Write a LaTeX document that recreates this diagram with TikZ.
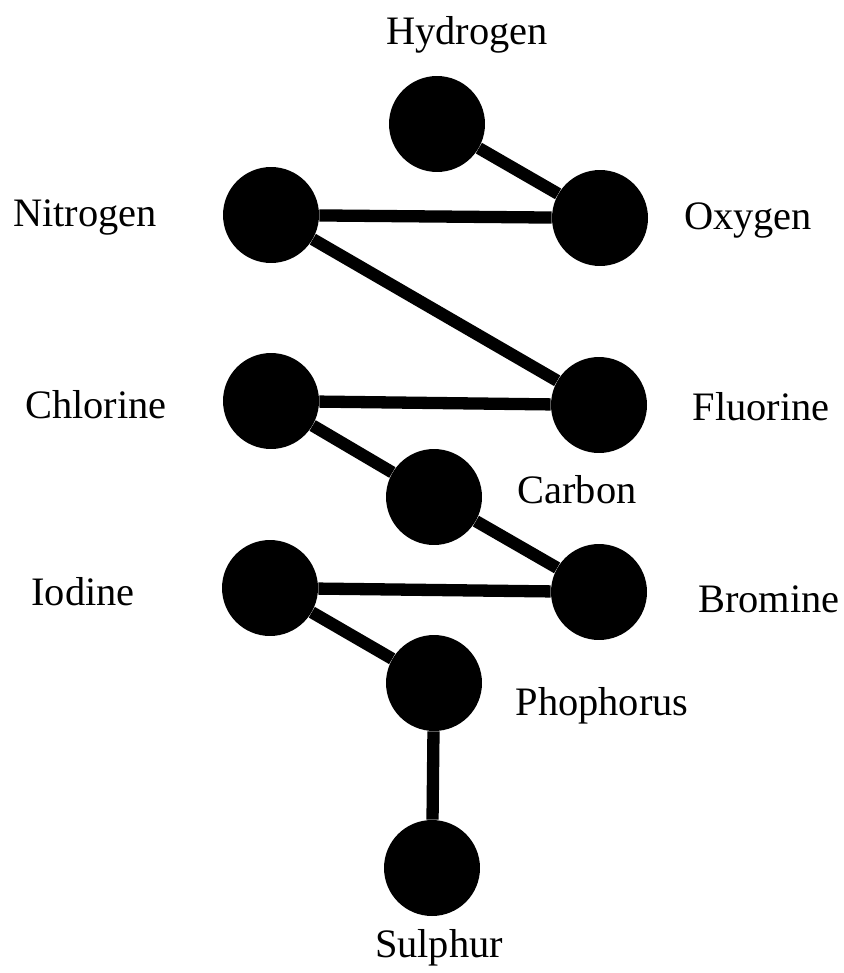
\documentclass[tikz,border=0pt]{standalone}
\usepackage{fontspec}
\setmainfont{Liberation Serif}
\usetikzlibrary{positioning}

\begin{document}
\begin{tikzpicture}[x=0.02cm, y=-0.02cm,
    atom/.style={circle, fill=black, minimum size=1.92cm, inner sep=0pt},
    element/.style={font=\fontsize{23}{27}\selectfont, anchor=base},
    bond/.style={line width=7pt}]
    \useasboundingbox (0,0) rectangle (843,973);
    % atoms
    \node [atom] (hydrogen) at (437,124) {};
    \node [atom] (nitrogen) at (271,215) {};
    \node [atom] (oxygen) at (600,218) {};
    \node [atom] (chlorine) at (271,401) {};
    \node [atom] (fluorine) at (599,405) {};
    \node [atom] (carbon) at (434,497) {};
    \node [atom] (iodine) at (270,588) {};
    \node [atom] (bromine) at (599,592) {};
    \node [atom] (phosphorus) at (434,683) {};
    \node [atom] (sulphur) at (432,868) {};
    % labels
    \node [element] (hydrogen-l) at (467,45) {Hydrogen};
    \node [element] (nitrogen-l) at (85,227) {Nitrogen};
    \node [element] (oxygen-l) at (748,230) {Oxygen};
    \node [element] (chlorine-l) at (96,418) {Chlorine};
    \node [element] (fluorine-l) at (761,420) {Fluorine};
    \node [element] (carbon-l) at (577,503) {Carbon};
    \node [element] (iodine-l) at (83,605) {Iodine};
    \node [element] (bromine-l) at (769,612) {Bromine};
    \node [element] (phosphorus-l) at (602,715) {Phophorus};
    \node [element] (sulphur-l) at (439,957) {Sulphur};
    % bonds
    \draw [bond] (hydrogen) -- (oxygen);
    \draw [bond] (nitrogen) -- (oxygen);
    \draw [bond] (nitrogen) -- (fluorine);
    \draw [bond] (chlorine) -- (fluorine);
    \draw [bond] (chlorine) -- (carbon);
    \draw [bond] (carbon) -- (bromine);
    \draw [bond] (iodine) -- (bromine);
    \draw [bond] (iodine) -- (phosphorus);
    \draw [bond] (phosphorus) -- (sulphur);
\end{tikzpicture}
\end{document}
